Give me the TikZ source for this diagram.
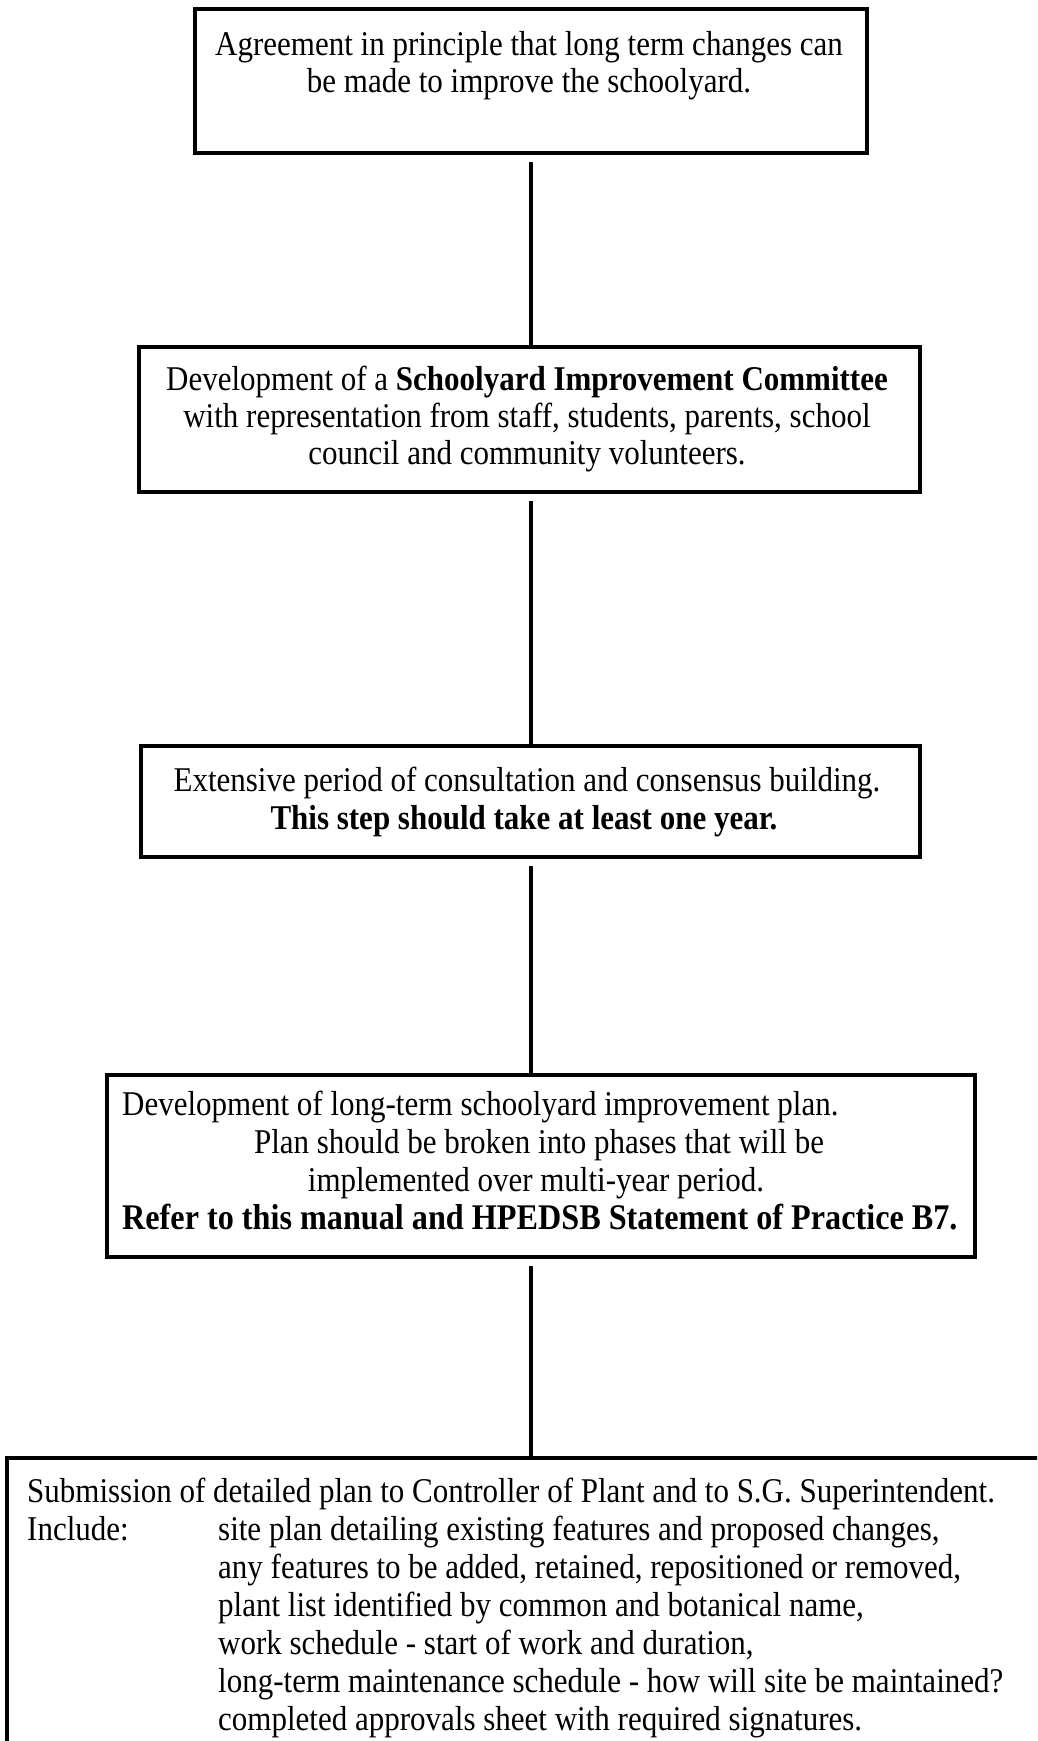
\documentclass[tikz,border=0pt]{standalone}
\usepackage{fontspec}
\usepackage{graphicx}
\setmainfont{Liberation Serif}
\newcommand{\vtext}[1]{\scalebox{1}[1.12]{#1}}
\begin{document}
\begin{tikzpicture}[x=1pt,y=-1pt,
  box/.style={draw, line width=4pt, inner sep=0pt, anchor=north west},
  conn/.style={line width=4pt, shorten <=7pt},
  txt/.style={anchor=base, inner sep=0pt, font=\fontsize{31}{35.6}\selectfont},
  txtl/.style={txt, anchor=base west}]
\useasboundingbox (0,0) rectangle (1037,1741);
\fill[white] (0,0) rectangle (1037,1741);
\clip (0,0) rectangle (1037,1741);
% boxes
\node[box, minimum width=672pt, minimum height=144pt] (b1) at (193,7) {};
\node[box, minimum width=781pt, minimum height=145pt] (b2) at (137,345) {};
\node[box, minimum width=779pt, minimum height=111pt] (b3) at (139,744) {};
\node[box, minimum width=868pt, minimum height=182pt] (b4) at (105,1073) {};
\node[box, minimum width=1060pt, minimum height=320pt] (b5) at (5,1456) {};
% connectors
\coordinate (ax) at (531,0);
\draw[conn] (b1.south -| ax) -- (b2.north -| ax);
\draw[conn] (b2.south -| ax) -- (b3.north -| ax);
\draw[conn] (b3.south -| ax) -- (b4.north -| ax);
\draw[conn] (b4.south -| ax) -- (b5.north -| ax);
% texts
\node[txt] (t1a) at (529,55) {\vtext{Agreement in principle that long term changes can}};
\node[txt] (t1b) at (529,92) {\vtext{be made to improve the schoolyard.}};
\node[txt] (t2a) at (527,390) {\vtext{Development of a \textbf{Schoolyard Improvement Committee}}};
\node[txt] (t2b) at (527,427) {\vtext{with representation from staff, students, parents, school}};
\node[txt] (t2c) at (527,464) {\vtext{council and community volunteers.}};
\node[txt] (t3a) at (527,791) {\vtext{Extensive period of consultation and consensus building.}};
\node[txt] (t3b) at (524,829) {\vtext{\textbf{This step should take at least one year.}}};
\node[txtl] (t4a) at (122,1115.5) {\vtext{Development of long-term schoolyard improvement plan.}};
\node[txt] (t4b) at (539,1153.5) {\vtext{Plan should be broken into phases that will be}};
\node[txt] (t4c) at (536,1191.5) {\vtext{implemented over multi-year period.}};
\node[txtl, font=\fontsize{32.2}{37}\selectfont] (t4d) at (122,1229.5) {\vtext{\textbf{Refer to this manual and HPEDSB Statement of Practice B7.}}};
\node[txtl] (t5a) at (27,1502) {\vtext{Submission of detailed plan to Controller of Plant and to S.G. Superintendent.}};
\node[txtl] (t5b) at (27,1540) {\vtext{Include:}};
\node[txtl] (t5c) at (218,1540) {\vtext{site plan detailing existing features and proposed changes,}};
\node[txtl] (t5d) at (218,1578) {\vtext{any features to be added, retained, repositioned or removed,}};
\node[txtl] (t5e) at (218,1616) {\vtext{plant list identified by common and botanical name,}};
\node[txtl] (t5f) at (218,1654) {\vtext{work schedule - start of work and duration,}};
\node[txtl] (t5g) at (218,1692) {\vtext{long-term maintenance schedule - how will site be maintained?}};
\node[txtl] (t5h) at (218,1730) {\vtext{completed approvals sheet with required signatures.}};
\end{tikzpicture}
\end{document}
